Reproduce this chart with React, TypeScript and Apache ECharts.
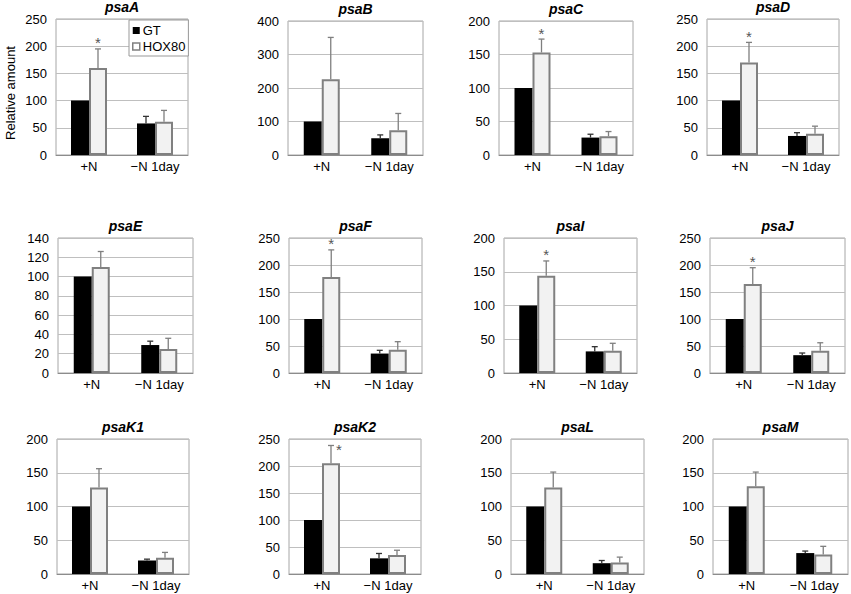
import React, { useEffect, useRef } from 'react';
import * as echarts from 'echarts';

const FONT = '"Liberation Sans", Arial, Helvetica, sans-serif';

const genes = ['psaA', 'psaB', 'psaC', 'psaD', 'psaE', 'psaF', 'psaI', 'psaJ', 'psaK1', 'psaK2', 'psaL', 'psaM'];
const categories = ['+N', '\u2212N 1day'];
const yMax = [250, 400, 200, 250, 140, 250, 200, 250, 200, 250, 200, 200];
const yInterval = [50, 100, 50, 50, 20, 50, 50, 50, 50, 50, 50, 50];

const gtValues = [
  [100, 58], [100, 50], [100, 26], [100, 35],
  [100, 29], [100, 36], [100, 32], [100, 33],
  [100, 20], [100, 29], [100, 16], [100, 31],
];
const gtErrors = [
  [0, 13], [0, 10], [0, 5], [0, 6],
  [0, 4], [0, 6], [0, 7], [0, 4],
  [0, 2], [0, 9], [0, 4], [0, 3],
];
const hoxValues = [
  [160, 61], [226, 74], [153, 28], [170, 39],
  [110, 25], [178, 43], [144, 33], [165, 41],
  [128, 24], [205, 35], [128, 17], [130, 29],
];
const hoxErrors = [
  [35, 21], [125, 50], [20, 7], [37, 14],
  [16, 11], [50, 15], [22, 11], [30, 15],
  [28, 8], [33, 9], [23, 8], [21, 12],
];
// significance (*) of HOX80 vs GT under +N
const significant = [1, 0, 1, 1, 0, 1, 1, 1, 0, 1, 0, 0];

// panel layout: left, top, width, height (px)
const layout = [
  [56, 19, 132, 136], [288, 21, 135, 134], [499, 21, 134, 134], [707, 19, 132, 136],
  [58, 238, 135, 135], [289, 238, 133, 135], [504, 238, 133, 135], [710, 238, 135, 135],
  [57, 439, 132, 135], [289, 439, 132, 135], [511, 439, 133, 135], [713, 439, 135, 135],
];

const BAR_W = 18;

export default function App() {
  const ref = useRef<HTMLDivElement>(null);

  useEffect(() => {
    document.body.style.margin = '0';
    const chart = echarts.init(ref.current as HTMLDivElement, null, { renderer: 'svg' });

    const grids: any[] = [];
    const xAxes: any[] = [];
    const yAxes: any[] = [];
    const series: any[] = [];
    const graphics: any[] = [];

    genes.forEach((gene, i) => {
      const [l, t, w, h] = layout[i];
      grids.push({
        left: l, top: t, width: w, height: h,
        show: true, borderColor: '#a6a6a6', borderWidth: 1, backgroundColor: 'transparent',
      });
      xAxes.push({
        type: 'category', gridIndex: i, data: categories,
        axisTick: { show: false },
        axisLine: { lineStyle: { color: '#8c8c8c', width: 1 } },
        axisLabel: { color: '#000', fontSize: 13, fontFamily: FONT, margin: 5, interval: 0 },
      });
      yAxes.push({
        type: 'value', gridIndex: i, min: 0, max: yMax[i], interval: yInterval[i],
        axisLine: { show: false }, axisTick: { show: false },
        splitLine: { lineStyle: { color: '#bfbfbf', width: 1 } },
        axisLabel: { color: '#000', fontSize: 13, fontFamily: FONT, margin: 9 },
      });
      series.push({
        type: 'bar', name: 'GT', xAxisIndex: i, yAxisIndex: i,
        data: gtValues[i], barWidth: BAR_W, barGap: '0%',
        itemStyle: { color: '#000000' },
      });
      series.push({
        type: 'bar', name: 'HOX80', xAxisIndex: i, yAxisIndex: i,
        data: hoxValues[i], barWidth: BAR_W, barGap: '0%',
        itemStyle: { color: '#f2f2f2', borderColor: '#808080', borderWidth: 2 },
      });
      const errData: any[] = [];
      for (let c = 0; c < categories.length; c++) {
        errData.push([c, gtValues[i][c], gtErrors[i][c], 0, 0]);
        errData.push([c, hoxValues[i][c], hoxErrors[i][c], 1, c === 0 ? significant[i] : 0]);
      }
      series.push({
        type: 'custom', xAxisIndex: i, yAxisIndex: i, z: 5, silent: true,
        encode: { x: 0, y: 1 },
        data: errData,
        renderItem: (params: any, api: any) => {
          const c = api.value(0);
          const v = api.value(1);
          const e = api.value(2);
          const side = api.value(3);
          const sig = api.value(4);
          const base = api.coord([c, v]);
          const top = api.coord([c, v + e]);
          const cx = base[0] + (side === 0 ? -BAR_W / 2 : BAR_W / 2);
          const color = side === 0 ? '#333333' : '#7f7f7f';
          const children: any[] = [];
          if (e > 0) {
            children.push({
              type: 'line',
              shape: { x1: cx, y1: base[1], x2: cx, y2: top[1] },
              style: { stroke: color, lineWidth: 1.3 },
            });
            children.push({
              type: 'line',
              shape: { x1: cx - 3, y1: top[1], x2: cx + 3, y2: top[1] },
              style: { stroke: color, lineWidth: 1.3 },
            });
          }
          if (sig) {
            const gridTop = params.coordSys.y;
            const onRight = top[1] - 10 < gridTop;
            children.push({
              type: 'text',
              x: onRight ? cx + 8 : cx,
              y: onRight ? top[1] + 4 : top[1] - 6,
              style: {
                text: '*', fontSize: 15, fontFamily: FONT, fill: '#555555',
                textAlign: 'center', textVerticalAlign: 'middle', align: 'center', verticalAlign: 'middle',
              },
            });
          }
          return { type: 'group', children };
        },
      });
      graphics.push({
        type: 'text', x: l + w / 2, y: t - 12,
        style: {
          text: gene, font: `italic bold 14px ${FONT}`, fill: '#000',
          textAlign: 'center', textVerticalAlign: 'middle', align: 'center', verticalAlign: 'middle',
        },
      });
    });

    graphics.push({
      type: 'text', x: 10, y: 93, rotation: Math.PI / 2,
      style: {
        text: 'Relative amount', font: `13px ${FONT}`, fill: '#000',
        textAlign: 'center', textVerticalAlign: 'middle', align: 'center', verticalAlign: 'middle',
      },
    });

    chart.setOption({
      animation: false,
      backgroundColor: '#ffffff',
      grid: grids,
      xAxis: xAxes,
      yAxis: yAxes,
      series,
      graphic: graphics,
      legend: {
        left: 129, top: 20, orient: 'vertical', z: 10,
        data: [
          { name: 'GT', icon: 'rect', itemStyle: { color: '#000' } },
          { name: 'HOX80', icon: 'rect', itemStyle: { color: '#ffffff', borderColor: '#808080', borderWidth: 1.5 } },
        ],
        itemWidth: 7, itemHeight: 7, itemGap: 3,
        padding: [4, 3, 3, 3],
        backgroundColor: '#ffffff', borderColor: '#999999', borderWidth: 1,
        textStyle: { fontSize: 13, fontFamily: FONT, color: '#000', padding: [0, 0, 0, -2] },
      },
    });

    return () => chart.dispose();
  }, []);

  return <div ref={ref} style={{ width: 851, height: 594 }} />;
}
